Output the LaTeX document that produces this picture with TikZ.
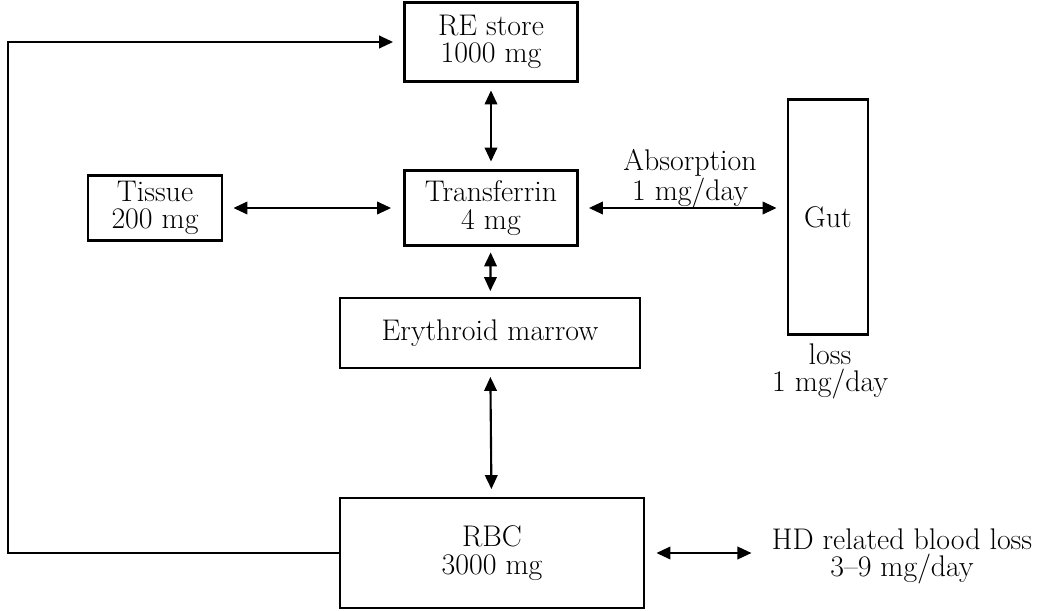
\documentclass[tikz,border=0pt]{standalone}
\usepackage{fontspec}
\usepackage{tikz}
\usetikzlibrary{arrows.meta,calc,positioning}
\tikzset{
   every path/.style={>={Triangle[length=2.8mm,width=2.5mm]}},
   flow/.style={<->,line width=1.2pt,shorten >=1.5mm,shorten <=1.5mm},
   back/.style={->,line width=1.3pt,shorten >=2mm},
}

\begin{document}
\begin{tikzpicture}[box/.style={rectangle, draw, line width=1.6pt, align=center, inner sep=0pt},
  lbl/.style={align=center, inner sep=0pt},
  font=\fontsize{17}{15.5}\selectfont\addfontfeatures{LetterSpace=5}]
  \useasboundingbox (0,0) rectangle (21.06,-12.2);
  \node [box, minimum width=3.46cm, minimum height=1.58cm] (re) at (9.82,-0.84) {RE store \\ 1000 mg};
  \node [box, minimum width=2.68cm, minimum height=1.30cm] (tissue) at (3.10,-4.16) {Tissue \\ 200 mg};
  \node [box, minimum width=3.46cm, minimum height=1.50cm] (transf) at (9.82,-4.16) {Transferrin \\ 4 mg};
  \node [box, minimum width=1.60cm, minimum height=4.70cm] (gut) at (16.56,-4.34) {Gut};
  \node [box, minimum width=6.00cm, minimum height=1.40cm] (ery) at (9.80,-6.66) {Erythroid marrow};
  \node [box, minimum width=6.08cm, minimum height=2.20cm] (rbc) at (9.84,-11.06) {RBC \\ 3000 mg};

  \node [lbl] (absorb) at (13.8,-3.58) {Absorption \\ 1 mg/day};
  \node [lbl] (loss) at (16.6,-7.42) {loss \\ 1 mg/day};
  \node [lbl] (hd) at (18.04,-11.12) {HD related blood loss \\ 3--9 mg/day};
  \coordinate (corner) at (0.16,-0.84);

  \begin{scope}[flow]
   \draw (re) -- (transf);
   \draw [shorten >=2.4mm, shorten <=2mm] (tissue) -- (transf);
   \draw [shorten >=2mm, shorten <=2mm] (transf.east) -- (transf.east -| gut.west);
   \draw [shorten >=1.1mm, shorten <=1.1mm] (transf) -- (ery);
   \draw (ery) -- (rbc);
   \draw [shorten >=4mm, shorten <=2.2mm] (rbc.east) -- (rbc.east -| hd.west);
  \end{scope}

  \draw [back] (rbc.west) -| (corner) -- (re.west);
\end{tikzpicture}
\end{document}
